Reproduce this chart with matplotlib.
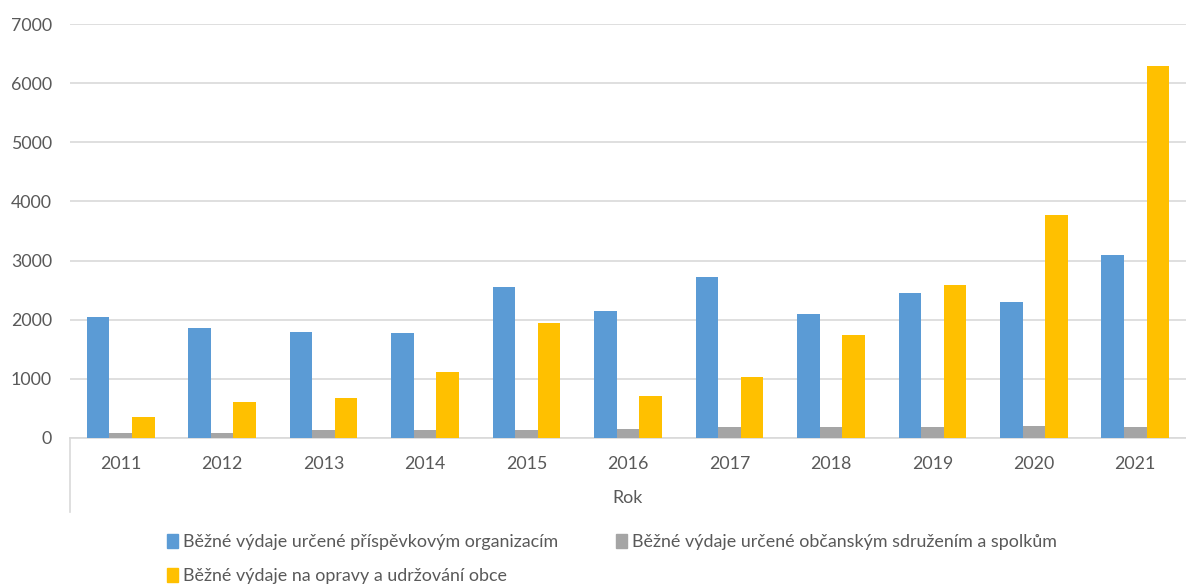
import matplotlib
matplotlib.use("Agg")
import matplotlib.pyplot as plt
from matplotlib.lines import Line2D
from matplotlib.patches import Patch
import numpy as np

years = ["2011", "2012", "2013", "2014", "2015", "2016", "2017", "2018", "2019", "2020", "2021"]
prispevkove = [2050, 1850, 1785, 1770, 2545, 2150, 2720, 2090, 2455, 2305, 3090]
spolky = [85, 85, 130, 130, 130, 155, 175, 175, 175, 200, 175]
opravy = [350, 610, 675, 1110, 1940, 700, 1020, 1745, 2590, 3765, 6290]

series_names = [
    "Běžné výdaje určené příspěvkovým organizacím",
    "Běžné výdaje určené občanským sdružením a spolkům",
    "Běžné výdaje na opravy a udržování obce",
]
colors = ["#5B9BD5", "#A5A5A5", "#FFC000"]
yticks = [0, 1000, 2000, 3000, 4000, 5000, 6000, 7000]

plt.rcParams['font.family'] = ['Lato', 'DejaVu Sans']
W, H = 1186, 586
fig = plt.figure(figsize=(W / 100, H / 100), dpi=100)
left, right, top, bottom = 70, 1186, 24.3, 437.7
ax = fig.add_axes([left / W, 1 - bottom / H, (right - left) / W, (bottom - top) / H])

x = np.arange(len(years))
bw = 1 / 4.5
for i, (vals, c) in enumerate(zip([prispevkove, spolky, opravy], colors)):
    ax.bar(x + (i - 1) * bw, vals, width=bw, color=c, zorder=3, label=series_names[i])

fs = 12.8
ax.set_xlim(-0.5, len(years) - 0.5)
ax.set_ylim(0, 7000)
ax.set_yticks(yticks)
ax.set_yticklabels([str(v) for v in yticks], fontsize=fs, color="#595959")
ax.set_xticks(x)
ax.set_xticklabels(years, fontsize=fs, color="#595959")
ax.tick_params(axis='both', length=0)
ax.tick_params(axis='y', pad=13)
ax.tick_params(axis='x', pad=13)
ax.grid(axis='y', color="#D9D9D9", linewidth=1.2, zorder=0)
for s in ["top", "right", "left"]:
    ax.spines[s].set_visible(False)
ax.spines["bottom"].set_color("#D9D9D9")
ax.spines["bottom"].set_linewidth(1.2)
ax.set_xlabel("Rok", fontsize=fs, color="#595959", labelpad=13)

fig.add_artist(Line2D([left / W, left / W], [1 - bottom / H, 1 - 512 / H],
                      color="#D9D9D9", linewidth=1.2))

handles = [Patch(color=colors[0]), Patch(color=colors[2]), Patch(color=colors[1])]
labels = [series_names[0], series_names[2], series_names[1]]
leg = fig.legend(handles, labels, ncol=2, loc="upper left",
                 bbox_to_anchor=(160 / W, 1 - 527 / H), frameon=False,
                 fontsize=12.9, labelcolor="#595959", handlelength=0.6, handleheight=0.8,
                 handletextpad=0.3, columnspacing=3.2, labelspacing=1.0, borderaxespad=0)

fig.savefig("out.png", dpi=100)
